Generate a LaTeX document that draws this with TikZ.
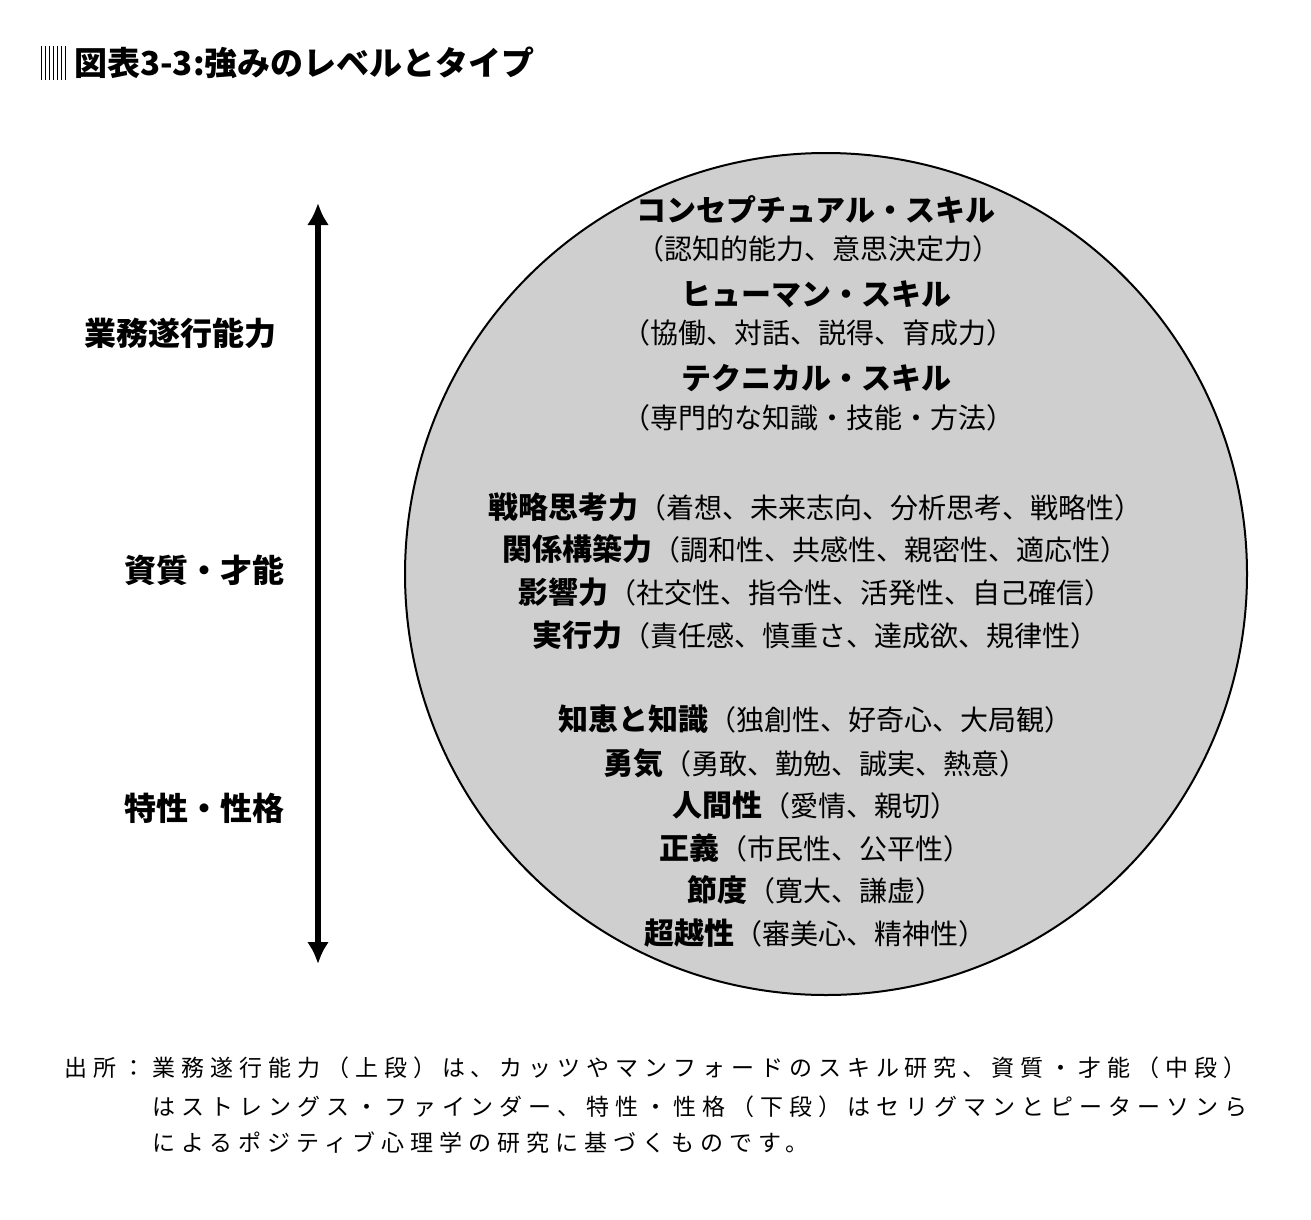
\documentclass[tikz,border=0pt]{standalone}
\usepackage{fontspec}
\usetikzlibrary{arrows.meta}
\setmainfont{Noto Sans CJK JP}
\newfontfamily\fnfont{Noto Sans CJK JP}[LetterSpace=26]
\newcommand\bb[1]{{\bfseries\fontsize{30}{34}\selectfont #1}}
\begin{document}
\begin{tikzpicture}[x=1pt,y=-1pt,
  lab/.style={inner sep=0pt,anchor=center,font=\fontsize{32}{36}\selectfont\bfseries},
  cl/.style={inner sep=0pt,anchor=center,font=\fontsize{28}{32}\selectfont},
  fn/.style={inner sep=0pt,anchor=west,font=\fontsize{23}{28}\fnfont}]
\useasboundingbox (0,0) rectangle (1311,1220);
\fill[white] (0,0) rectangle (1311,1220);
% title
\foreach \xx in {41,45,49,53,57,61,65} \draw[line width=0.8pt] (\xx,46) -- (\xx,80);
\node[lab,anchor=west,font=\fontsize{33}{36}\selectfont\bfseries] (title) at (74,63) {図表3-3:強みのレベルとタイプ};
% circle
\node[draw=black,line width=2pt,fill=black!19,circle,minimum size=842,inner sep=0pt] (circ) at (826,574) {};
% arrow
\coordinate (atop) at (318,203);
\coordinate (abot) at (318,964);
\draw[line width=6pt,{Latex[length=22pt,width=22pt]}-{Latex[length=22pt,width=22pt]}] (abot) -- (atop);
% left labels
\node[lab] (l1) at (180,333) {業務遂行能力};
\node[lab] (l2) at (204,570) {資質・才能};
\node[lab] (l3) at (204,808) {特性・性格};
% circle text
\node[cl] (c1) at (816,210) {\bb{コンセプチュアル・スキル}};
\node[cl] (c2) at (818,249) {（認知的能力、意思決定力）};
\node[cl] (c3) at (816,294) {\bb{ヒューマン・スキル}};
\node[cl] (c4) at (818,333) {（協働、対話、説得、育成力）};
\node[cl] (c5) at (816,378) {\bb{テクニカル・スキル}};
\node[cl] (c6) at (818,418) {（専門的な知識・技能・方法）};
\node[cl] (d1) at (815,507) {\bb{戦略思考力}（着想、未来志向、分析思考、戦略性）};
\node[cl] (d2) at (815,549) {\bb{関係構築力}（調和性、共感性、親密性、適応性）};
\node[cl] (d3) at (815,592) {\bb{影響力}（社交性、指令性、活発性、自己確信）};
\node[cl] (d4) at (815,635) {\bb{実行力}（責任感、慎重さ、達成欲、規律性）};
\node[cl] (e1) at (815,719) {\bb{知恵と知識}（独創性、好奇心、大局観）};
\node[cl] (e2) at (815,763) {\bb{勇気}（勇敢、勤勉、誠実、熱意）};
\node[cl] (e3) at (815,805) {\bb{人間性}（愛情、親切）};
\node[cl] (e4) at (815,848) {\bb{正義}（市民性、公平性）};
\node[cl] (e5) at (815,890) {\bb{節度}（寛大、謙虚）};
\node[cl] (e6) at (815,933) {\bb{超越性}（審美心、精神性）};
% footnote
\node[fn] (f0) at (64,1068) {出所：};
\node[fn] (f1) at (152,1068) {業務遂行能力（上段）は、カッツやマンフォードのスキル研究、資質・才能（中段）};
\node[fn] (f2) at (152,1107) {はストレングス・ファインダー、特性・性格（下段）はセリグマンとピーターソンら};
\node[fn] (f3) at (152,1143) {によるポジティブ心理学の研究に基づくものです。};
\end{tikzpicture}
\end{document}
